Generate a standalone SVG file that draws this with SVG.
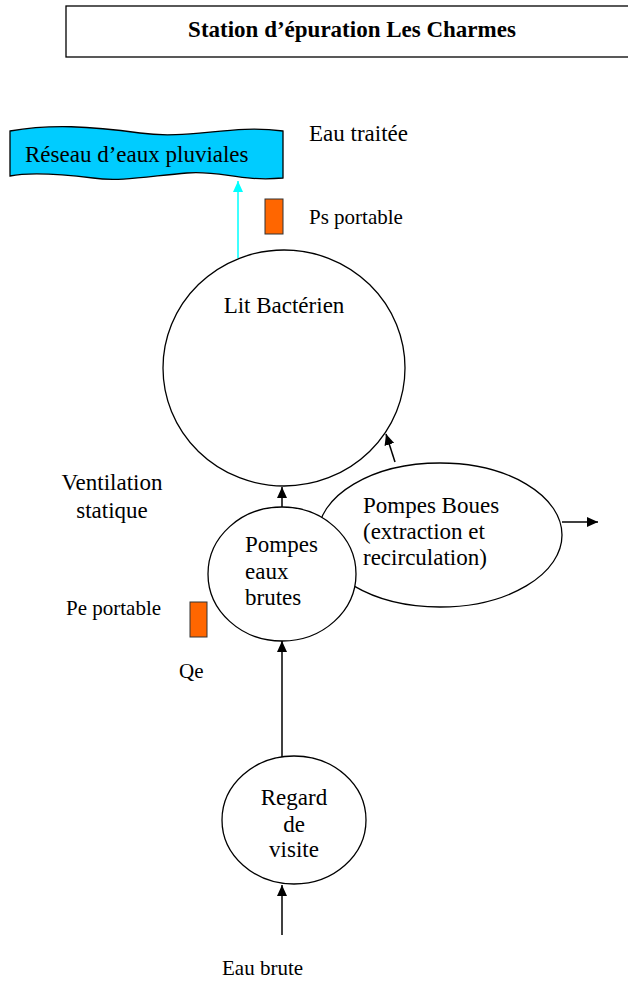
<svg xmlns="http://www.w3.org/2000/svg" width="628" height="982" viewBox="0 0 628 982">
<defs>
<style>
text{font-family:"Liberation Serif","Times New Roman",serif;font-size:23px;fill:#000}
.node{fill:#fff;stroke:#000;stroke-width:1.3}
.lbl{font-size:23px}
.small{font-size:21px}
.c{text-anchor:middle}
.conn{stroke:#000;stroke-width:1.5;fill:none}
.sensor{fill:#FF6600;stroke:#333;stroke-width:1}
</style>
<marker id="ah" markerWidth="12" markerHeight="10" refX="11" refY="5" orient="auto" markerUnits="userSpaceOnUse">
<path d="M0,0 L11,5 L0,10 Z" fill="#000"/>
</marker>
<marker id="ahc" markerWidth="12" markerHeight="10" refX="11" refY="5" orient="auto" markerUnits="userSpaceOnUse">
<path d="M0,0 L11,5 L0,10 Z" fill="#00FFFF"/>
</marker>
</defs>
<rect width="628" height="982" fill="#fff"/>

<g id="title">
<rect x="66" y="6" width="580" height="51" fill="#fff" stroke="#000" stroke-width="1.3"/>
<text x="352" y="37" class="c" style="font-weight:bold;font-size:23px">Station d’épuration Les Charmes</text>
</g>

<g id="reseau">
<path d="M10,131 C50,124 90,126 140,133 C190,140 230,124 283,131 L283,178 C240,182 220,170 187,173 C150,176 120,182 93,178 C60,174 30,172 10,176 Z" fill="#00CCFF" stroke="#000" stroke-width="1.3"/>
<text x="25" y="162" class="lbl">Réseau d’eaux pluviales</text>
</g>

<g id="eau-traitee"><text x="309" y="141" class="lbl">Eau traitée</text></g>

<g id="ps"><rect x="265" y="199" width="18" height="35" class="sensor"/><text x="309" y="224" class="small">Ps portable</text></g>

<g id="pompes-boues">
<ellipse cx="440" cy="535" rx="122" ry="72" class="node"/>
<text x="363" y="513" class="lbl">Pompes Boues</text>
<text x="363" y="539" class="lbl">(extraction et</text>
<text x="363" y="565" class="lbl">recirculation)</text>
</g>

<g id="lit-bacterien">
<ellipse cx="284" cy="368" rx="121" ry="118" class="node"/>
<text x="284" y="313" class="lbl c">Lit Bactérien</text>
</g>

<g id="pompes-eaux-brutes">
<ellipse cx="282" cy="574" rx="74" ry="67" class="node"/>
<text x="245" y="552" class="lbl">Pompes</text>
<text x="245" y="579" class="lbl">eaux</text>
<text x="245" y="605" class="lbl">brutes</text>
</g>

<g id="regard">
<ellipse cx="294" cy="820" rx="72" ry="64" class="node"/>
<text x="294" y="805" class="lbl c">Regard</text>
<text x="294" y="832" class="lbl c">de</text>
<text x="294" y="857" class="lbl c">visite</text>
</g>

<g id="ventilation">
<text x="112" y="490" class="lbl c">Ventilation</text>
<text x="112" y="518" class="lbl c">statique</text>
</g>

<g id="pe"><rect x="190" y="602" width="17" height="35" class="sensor"/><text x="66" y="615" class="small">Pe portable</text></g>
<g id="qe"><text x="179" y="678" class="small">Qe</text></g>
<g id="eau-brute"><text x="222" y="975" class="small">Eau brute</text></g>

<g id="connectors">
<line x1="238" y1="258" x2="238" y2="181" stroke="#00FFFF" stroke-width="1.5" marker-end="url(#ahc)"/>
<line x1="282" y1="507" x2="282" y2="487" class="conn" marker-end="url(#ah)"/>
<line x1="282" y1="757" x2="282" y2="641" class="conn" marker-end="url(#ah)"/>
<line x1="282" y1="935" x2="282" y2="885" class="conn" marker-end="url(#ah)"/>
<line x1="395" y1="462" x2="386" y2="434" class="conn" marker-end="url(#ah)"/>
<line x1="562" y1="522" x2="598" y2="522" class="conn" marker-end="url(#ah)"/>
</g>
</svg>
